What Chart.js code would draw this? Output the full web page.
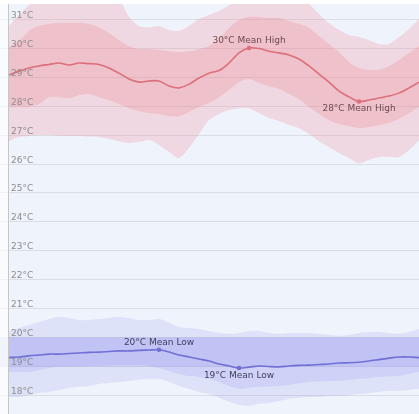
<!DOCTYPE html>
<html>
<head>
<meta charset="utf-8">
<script src="https://cdn.jsdelivr.net/npm/chart.js@4.4.1/dist/chart.umd.min.js"></script>
<style>
  html, body { margin: 0; padding: 0; background: #fff; }
  #wrap { width: 419px; height: 414px; }
</style>
</head>
<body>
<div id="wrap"><canvas id="grafico" width="419" height="414"></canvas></div>
<script>
// --- datos (semanas del periodo, sin etiquetas visibles) ---
const weeks = [0,1,2,3,4,5,6,7,8,9,10,11,12,13,14,15,16,17,18,19,20,21,22,23,24,25,26,27,28,29,30,31,32,33,34,35,36,37,38,39,40,41];

const highMean = [29.08,29.21,29.32,29.39,29.44,29.49,29.42,29.49,29.47,29.44,29.32,29.14,28.94,28.83,28.87,28.87,28.70,28.63,28.76,28.97,29.14,29.23,29.49,29.84,30.01,29.99,29.90,29.84,29.77,29.63,29.39,29.11,28.83,28.52,28.32,28.16,28.21,28.28,28.35,28.45,28.63,28.83];
const highInnerTop = [30.04,30.25,30.60,30.77,30.84,30.87,30.87,30.87,30.84,30.73,30.53,30.28,30.08,29.97,29.97,29.94,29.90,29.87,29.90,29.97,30.08,30.32,30.70,30.98,31.08,31.08,31.05,31.05,30.94,30.84,30.70,30.42,30.15,29.87,29.52,29.32,29.25,29.25,29.39,29.59,29.84,30.08];
const highInnerBottom = [27.97,27.97,27.97,28.07,28.31,28.31,28.28,28.38,28.42,28.31,28.21,28.07,27.93,27.83,27.76,27.73,27.66,27.66,27.80,27.97,28.11,28.31,28.56,28.83,28.94,28.80,28.69,28.59,28.42,28.25,27.97,27.73,27.52,27.38,27.31,27.24,27.28,27.35,27.42,27.56,27.76,27.97];
const highOuterTop = [30.77,31.15,31.49,31.7,31.9,32.0,32.0,32.0,31.9,31.9,31.8,31.7,31.08,30.77,30.73,30.77,30.63,30.60,30.77,31.01,31.15,31.29,31.49,31.7,31.9,32.0,32.0,32.0,31.9,31.7,31.53,31.18,30.87,30.63,30.46,30.39,30.28,30.15,30.15,30.39,30.67,31.01];
const highOuterBottom = [26.79,26.93,26.97,27.00,27.00,26.98,26.97,26.97,26.95,26.93,26.86,26.79,26.73,26.76,26.83,26.66,26.42,26.21,26.56,27.04,27.52,27.73,27.87,27.93,27.93,27.76,27.59,27.49,27.35,27.24,27.04,26.79,26.59,26.38,26.21,26.03,26.14,26.24,26.24,26.24,26.48,26.83];

const lowMean = [19.31,19.33,19.37,19.40,19.43,19.43,19.45,19.47,19.49,19.50,19.52,19.54,19.54,19.56,19.57,19.58,19.50,19.40,19.33,19.26,19.19,19.09,19.02,18.95,18.98,19.02,19.00,18.99,19.02,19.04,19.05,19.07,19.09,19.12,19.13,19.15,19.19,19.24,19.29,19.33,19.33,19.31];
const lowInnerBottom = [18.81,18.81,18.81,18.88,18.95,18.99,18.99,19.00,19.02,19.02,19.04,19.05,19.05,19.05,19.02,18.95,18.85,18.74,18.67,18.64,18.57,18.47,18.33,18.23,18.26,18.30,18.31,18.33,18.36,18.42,18.47,18.48,18.50,18.50,18.54,18.57,18.60,18.64,18.66,18.67,18.74,18.81];
const lowOuterTop = [20.23,20.33,20.44,20.54,20.64,20.71,20.68,20.61,20.61,20.64,20.68,20.71,20.68,20.61,20.61,20.64,20.51,20.37,20.33,20.30,20.23,20.16,20.13,20.16,20.23,20.23,20.16,20.13,20.16,20.16,20.16,20.13,20.09,20.06,20.09,20.16,20.19,20.19,20.16,20.13,20.19,20.30];
const lowOuterBottom = [17.95,17.95,18.02,18.09,18.12,18.19,18.26,18.30,18.33,18.40,18.43,18.47,18.50,18.54,18.57,18.57,18.47,18.33,18.23,18.12,18.05,17.92,17.78,17.67,17.64,17.71,17.74,17.81,17.88,17.92,17.95,17.95,17.98,17.98,18.02,18.05,18.09,18.12,18.16,18.16,18.19,18.23];
const lowRange = [19, 20];

const yTicks = [18,19,20,21,22,23,24,25,26,27,28,29,30,31];
const yMin = 17.36;
const yMax = 31.53;

// colores
const rojo = "#dc6f7b";
const rosa = "rgba(240,140,152,0.26)";
const rosaFuerte = "rgba(240,140,152,0.30)";
const azul = "#6f6fd6";
const lila = "rgba(140,140,240,0.17)";
const lilaFuerte = "rgba(140,140,240,0.18)";
const fuente = "'DejaVu Sans', Verdana, sans-serif";

// --- fondo, franja baja, etiquetas del eje ---
const fondo = {
  id: "fondo",
  beforeDraw(chart) {
    const { ctx, chartArea: a } = chart;
    ctx.save();
    ctx.fillStyle = "#fff";
    ctx.fillRect(0, 0, chart.width, chart.height);
    ctx.fillStyle = "#eff3fb";
    ctx.fillRect(a.left, a.top, a.right - a.left, a.bottom - a.top);
    ctx.restore();
  },
  beforeDatasetsDraw(chart) {
    // franja entre la minima y la maxima media baja
    const { ctx, chartArea: a, scales: { y } } = chart;
    const y1 = y.getPixelForValue(lowRange[1]);
    const y0 = y.getPixelForValue(lowRange[0]);
    ctx.save();
    ctx.fillStyle = "rgba(140,140,240,0.2)";
    ctx.fillRect(a.left, y1, a.right - a.left, y0 - y1);
    ctx.restore();
  },
  afterDraw(chart) {
    const { ctx, chartArea: a, scales: { y } } = chart;
    ctx.save();
    ctx.fillStyle = "rgba(255,255,255,0.65)";
    ctx.fillRect(0, a.top, 8, a.bottom - a.top);
    ctx.strokeStyle = "#c6c6c6";
    ctx.lineWidth = 1;
    ctx.beginPath();
    ctx.moveTo(8.5, a.top);
    ctx.lineTo(8.5, a.bottom);
    ctx.stroke();
    // etiquetas del eje y dentro del area
    ctx.font = "9px " + fuente;
    ctx.fillStyle = "#8c8c8c";
    ctx.textAlign = "left";
    ctx.textBaseline = "alphabetic";
    yTicks.forEach(v => {
      ctx.fillText(v + "°C", 11, y.getPixelForValue(v) - 1.5);
    });
    ctx.restore();
  }
};

// --- marcas de maximo y minimo ---
const marcas = {
  id: "marcas",
  afterDatasetsDraw(chart) {
    const ctx = chart.ctx;
    const lista = [
      { ds: 0, serie: highMean, tipo: "max", texto: "Mean High", color: rojo, txt: "#6e4a4f" },
      { ds: 0, serie: highMean, tipo: "min", texto: "Mean High", color: rojo, txt: "#6e4a4f" },
      { ds: 1, serie: lowMean, tipo: "max", texto: "Mean Low", color: azul, txt: "#3e3e5c" },
      { ds: 1, serie: lowMean, tipo: "min", texto: "Mean Low", color: azul, txt: "#3e3e5c" }
    ];
    ctx.save();
    ctx.font = "9px " + fuente;
    ctx.textAlign = "center";
    ctx.textBaseline = "middle";
    lista.forEach(m => {
      const v = m.tipo === "max" ? Math.max(...m.serie) : Math.min(...m.serie);
      const i = m.serie.indexOf(v);
      const p = chart.getDatasetMeta(m.ds).data[i];
      ctx.fillStyle = m.color;
      ctx.beginPath();
      ctx.arc(p.x, p.y, 2.3, 0, Math.PI * 2);
      ctx.fill();
      ctx.fillStyle = m.txt;
      const dy = m.tipo === "max" ? -7 : 7.5;
      ctx.fillText(Math.round(v) + "°C " + m.texto, p.x, p.y + dy);
    });
    ctx.restore();
  }
};

const banda = (data, color, fill) => ({
  data, fill, backgroundColor: color, borderWidth: 0, pointRadius: 0, tension: 0.3
});

new Chart(document.getElementById("grafico"), {
  type: "line",
  data: {
    labels: weeks,
    datasets: [
      { data: highMean, borderColor: rojo, borderWidth: 1.6, pointRadius: 0, fill: false, tension: 0.3 },
      { data: lowMean, borderColor: azul, borderWidth: 1.6, pointRadius: 0, fill: false, tension: 0.3 },
      banda(highInnerTop, rosaFuerte, "+1"),
      banda(highInnerBottom, "transparent", false),
      banda(highOuterTop, rosa, "+1"),
      banda(highOuterBottom, "transparent", false),
      banda(lowInnerBottom, lilaFuerte, { value: lowRange[1] }),
      banda(lowOuterTop, lila, "+1"),
      banda(lowOuterBottom, "transparent", false)
    ]
  },
  options: {
    responsive: false,
    animation: false,
    layout: { padding: { top: 4, left: 0, right: 0, bottom: 0 } },
    plugins: { legend: { display: false }, tooltip: { enabled: false } },
    scales: {
      x: { type: "linear", min: -0.9, max: 41, display: false },
      y: {
        min: yMin,
        max: yMax,
        afterBuildTicks: s => { s.ticks = yTicks.map(v => ({ value: v })); },
        border: { display: false },
        grid: { color: "rgba(0,0,0,0.09)", drawTicks: false },
        ticks: { display: false }
      }
    }
  },
  plugins: [fondo, marcas]
});
</script>
</body>
</html>
